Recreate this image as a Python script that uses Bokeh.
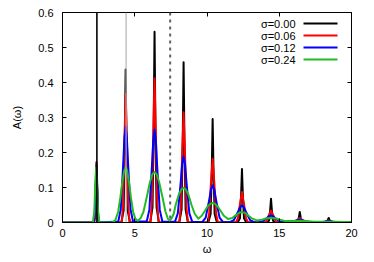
from bokeh.plotting import figure
from bokeh.models import Range1d, LinearAxis, FixedTicker, Span, Label, Arrow, ColumnDataSource
from bokeh.embed import file_html
from bokeh.resources import INLINE

# ---------------- data ----------------
series_labels = ["σ=0.00", "σ=0.06", "σ=0.12", "σ=0.24"]
series_colors = ["#000000", "#ff0000", "#0000ff", "#22bb22"]

black_w = [0,
           2.17, 2.25, 2.30, 2.35, 2.40, 2.45, 2.53,
           4.07, 4.23, 4.31, 4.37, 4.43, 4.51, 4.67,
           6.07, 6.23, 6.31, 6.37, 6.43, 6.51, 6.67,
           8.08, 8.24, 8.32, 8.38, 8.44, 8.52, 8.68,
           10.09, 10.25, 10.33, 10.39, 10.45, 10.53, 10.69,
           12.12, 12.28, 12.36, 12.42, 12.48, 12.56, 12.72,
           14.13, 14.29, 14.37, 14.43, 14.49, 14.57, 14.73,
           16.12, 16.28, 16.36, 16.42, 16.48, 16.56, 16.72,
           18.12, 18.28, 18.36, 18.42, 18.48, 18.56, 18.72,
           20]
black_a = [0,
           0, 0.014, 0.086, 0.172, 0.086, 0.014, 0,
           0, 0.035, 0.219, 0.437, 0.219, 0.035, 0,
           0, 0.044, 0.273, 0.545, 0.273, 0.044, 0,
           0, 0.037, 0.229, 0.458, 0.229, 0.037, 0,
           0, 0.024, 0.148, 0.296, 0.148, 0.024, 0,
           0, 0.012, 0.077, 0.153, 0.077, 0.012, 0,
           0, 0.005, 0.034, 0.068, 0.034, 0.005, 0,
           0, 0.002, 0.015, 0.030, 0.015, 0.002, 0,
           0, 0.001, 0.007, 0.013, 0.007, 0.001, 0,
           0]

red_w = [0,
         2.20, 2.25, 2.30, 2.35, 2.40, 2.45, 2.50,
         4.10, 4.19, 4.28, 4.37, 4.46, 4.55, 4.64,
         6.09, 6.18, 6.28, 6.37, 6.46, 6.56, 6.65,
         8.08, 8.18, 8.28, 8.38, 8.48, 8.58, 8.68,
         10.03, 10.15, 10.27, 10.39, 10.51, 10.63, 10.75,
         12.00, 12.14, 12.28, 12.42, 12.56, 12.70, 12.84,
         13.98, 14.13, 14.28, 14.43, 14.58, 14.73, 14.88,
         15.94, 16.10, 16.26, 16.42, 16.58, 16.74, 16.90,
         17.94, 18.10, 18.26, 18.42, 18.58, 18.74, 18.90,
         20]
red_a = [0,
         0, 0.022, 0.100, 0.165, 0.100, 0.022, 0,
         0, 0.050, 0.224, 0.368, 0.224, 0.050, 0,
         0, 0.056, 0.251, 0.412, 0.251, 0.056, 0,
         0, 0.043, 0.192, 0.315, 0.192, 0.043, 0,
         0, 0.025, 0.111, 0.182, 0.111, 0.025, 0,
         0, 0.012, 0.053, 0.087, 0.053, 0.012, 0,
         0, 0.005, 0.021, 0.034, 0.021, 0.005, 0,
         0, 0.002, 0.008, 0.013, 0.008, 0.002, 0,
         0, 0.001, 0.004, 0.006, 0.004, 0.001, 0,
         0]

blue_w = [0,
          2.17, 2.23, 2.29, 2.32, 2.35, 2.38, 2.41, 2.47, 2.53,
          3.86, 4.03, 4.20, 4.285, 4.37, 4.455, 4.54, 4.71, 4.88,
          5.83, 6.01, 6.19, 6.28, 6.37, 6.46, 6.55, 6.73, 6.91,
          7.78, 7.98, 8.18, 8.28, 8.38, 8.48, 8.58, 8.78, 8.98,
          9.67, 9.91, 10.15, 10.27, 10.39, 10.51, 10.63, 10.87, 11.11,
          11.58, 11.86, 12.14, 12.28, 12.42, 12.56, 12.70, 12.98, 13.26,
          13.53, 13.83, 14.13, 14.28, 14.43, 14.58, 14.73, 15.03, 15.33,
          15.52, 15.82, 16.12, 16.27, 16.42, 16.57, 16.72, 17.02, 17.32,
          17.52, 17.82, 18.12, 18.27, 18.42, 18.57, 18.72, 19.02, 19.32,
          20]
blue_a = [0,
          0, 0.022, 0.097, 0.141, 0.160, 0.141, 0.097, 0.022, 0,
          0.003, 0.037, 0.166, 0.241, 0.274, 0.241, 0.166, 0.037, 0.003,
          0.003, 0.036, 0.161, 0.234, 0.265, 0.234, 0.161, 0.036, 0.003,
          0.002, 0.026, 0.115, 0.167, 0.189, 0.167, 0.115, 0.026, 0.002,
          0.001, 0.014, 0.064, 0.093, 0.106, 0.093, 0.064, 0.014, 0.001,
          0.001, 0.007, 0.030, 0.043, 0.049, 0.043, 0.030, 0.007, 0.001,
          0, 0.003, 0.012, 0.018, 0.020, 0.018, 0.012, 0.003, 0,
          0, 0.001, 0.005, 0.007, 0.008, 0.007, 0.005, 0.001, 0,
          0, 0.0005, 0.0025, 0.0035, 0.004, 0.0035, 0.0025, 0.0005, 0,
          0]

green_w = [0, 2.10, 2.20, 2.27, 2.33, 2.39, 2.46, 2.56,
           3.45, 3.65, 3.85, 4.00, 4.15, 4.27, 4.37, 4.47, 4.59, 4.74, 4.89, 5.05,
           5.22, 5.40, 5.60, 5.83, 6.05, 6.22, 6.37, 6.52, 6.69, 6.92, 7.12, 7.30,
           7.42, 7.55, 7.70, 7.83, 8.05, 8.22, 8.38, 8.54, 8.71, 8.93, 9.15,
           9.40, 9.65, 9.85, 10.05, 10.22, 10.39, 10.56, 10.75, 10.95, 11.15,
           11.45, 11.75, 12.00, 12.20, 12.42, 12.65, 12.85, 13.10,
           13.45, 13.80, 14.10, 14.43, 14.75, 15.05,
           15.45, 16.00, 16.42, 16.85, 17.40, 18.00, 18.42, 18.90, 20]
green_a = [0, 0, 0.030, 0.110, 0.158, 0.110, 0.030, 0,
           0, 0.006, 0.030, 0.070, 0.118, 0.148, 0.158, 0.148, 0.118, 0.070, 0.030, 0.010,
           0.005, 0.012, 0.030, 0.072, 0.115, 0.138, 0.144, 0.138, 0.115, 0.072, 0.032, 0.010,
           0.006, 0.012, 0.025, 0.050, 0.080, 0.094, 0.099, 0.094, 0.080, 0.050, 0.025,
           0.011, 0.020, 0.033, 0.046, 0.053, 0.056, 0.053, 0.045, 0.033, 0.020,
           0.010, 0.013, 0.021, 0.027, 0.030, 0.027, 0.020, 0.012,
           0.006, 0.008, 0.012, 0.013, 0.012, 0.008,
           0.004, 0.004, 0.005, 0.004, 0.002, 0.002, 0.0025, 0.002, 0.0005]

vline_solid = 2.38
vline_gray = 4.40
vline_dashed = 7.45

x_ticks = [0, 5, 10, 15, 20]
x_tick_labels = ["0", "5", "10", "15", "20"]
y_ticks = [0, 0.1, 0.2, 0.3, 0.4, 0.5, 0.6]
y_tick_labels = ["0", "0.1", "0.2", "0.3", "0.4", "0.5", "0.6"]

FONT = "Liberation Sans"

# ---------------- figure ----------------
p = figure(width=374, height=262, output_backend="svg", toolbar_location=None,
           x_range=Range1d(0, 20), y_range=Range1d(0, 0.6),
           min_border_left=62, min_border_right=23, min_border_top=12,
           min_border_bottom=40, x_axis_label="ω", y_axis_label="A(ω)")
p.grid.visible = False
p.outline_line_color = "black"
p.outline_line_width = 1
p.background_fill_color = "white"
p.border_fill_color = "white"

def style_axis(ax, ticks, labels, show_labels=True):
    ax.ticker = FixedTicker(ticks=ticks)
    ax.major_tick_in = 4
    ax.major_tick_out = 0
    ax.minor_tick_line_color = None
    ax.major_tick_line_color = "black"
    ax.axis_line_color = "black"
    if show_labels:
        ax.major_label_overrides = {t: l for t, l in zip(ticks, labels)}
        ax.major_label_text_font = FONT
        ax.major_label_text_font_size = "11px"
        ax.major_label_text_color = "black"
        ax.axis_label_text_font = FONT
        ax.axis_label_text_font_size = "11px"
        ax.axis_label_text_font_style = "normal"
        ax.axis_label_text_color = "black"
    else:
        ax.major_label_text_font_size = "1px"
        ax.major_label_text_color = None
        ax.major_label_standoff = 0

style_axis(p.xaxis[0], x_ticks, x_tick_labels)
p.xaxis[0].major_label_standoff = 6
p.xaxis[0].axis_label_standoff = 3
style_axis(p.yaxis[0], y_ticks, y_tick_labels)
p.yaxis[0].major_label_standoff = 9
p.yaxis[0].axis_label_standoff = 12

top_ax = LinearAxis()
style_axis(top_ax, x_ticks, x_tick_labels, show_labels=False)
p.add_layout(top_ax, "above")
right_ax = LinearAxis()
style_axis(right_ax, y_ticks, y_tick_labels, show_labels=False)
p.add_layout(right_ax, "right")

# vertical reference lines
p.add_layout(Span(location=vline_gray, dimension="height", line_color="#b4b4b4", line_width=1.2))
p.add_layout(Span(location=vline_solid, dimension="height", line_color="black", line_width=1.6))
p.add_layout(Span(location=vline_dashed, dimension="height", line_color="#606060",
                  line_width=2, line_dash="3 4"))

# curves
all_w = [black_w, red_w, blue_w, green_w]
all_a = [black_a, red_a, blue_a, green_a]
for w, a, c in zip(all_w, all_a, series_colors):
    src = ColumnDataSource(dict(w=w, a=a))
    p.line("w", "a", source=src, line_color=c, line_width=2, line_join="round")

# legend (gnuplot style: text left, sample right)
row_y = [199, 187, 175, 163]
for lab, c, yy in zip(series_labels, series_colors, row_y):
    p.add_layout(Label(x=233, y=yy, x_units="screen", y_units="screen", text=lab,
                       text_align="right", text_baseline="middle",
                       text_font=FONT, text_font_size="11px", text_color="black"))
    p.add_layout(Arrow(end=None, x_start=241, y_start=yy, x_end=275, y_end=yy,
                       start_units="screen", end_units="screen",
                       line_color=c, line_width=2))

open("out.html", "w").write(file_html(p, INLINE))
